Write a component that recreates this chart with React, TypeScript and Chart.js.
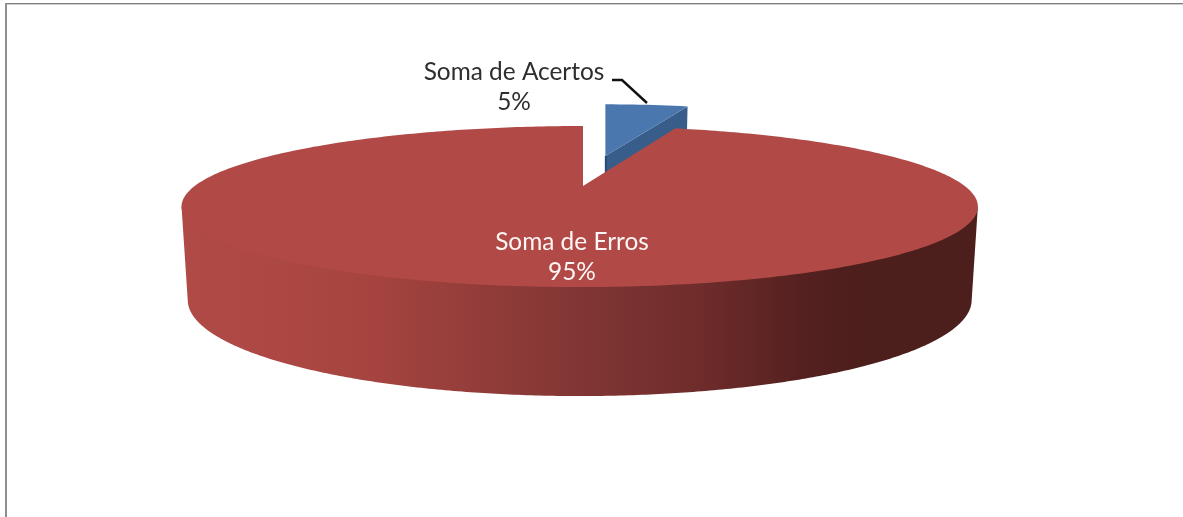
import React, { useEffect, useRef } from "react";
import { Chart, registerables } from "chart.js";

Chart.register(...registerables);

const categories = ["Soma de Acertos", "Soma de Erros"];
const seriesValues = [5, 95];
const percentLabels = ["5%", "95%"];
const sliceColors = ["#4a78ae", "#b14a47"];
const explodeOffsets = [95, 0];

const WALL_STOPS: [number, string][] = [
  [183, "#b04a46"],
  [300, "#ab4743"],
  [380, "#a4433f"],
  [460, "#963e3b"],
  [580, "#813634"],
  [700, "#6e2c2b"],
  [800, "#552120"],
  [860, "#4c1e1c"],
  [978, "#4c1e1c"],
];

type Plane = { cx: number; cy: number; a: number; b: number; k: number; warp: number };
const TOP: Plane = { cx: 579.7, cy: 186, a: 385, b: 75.3, k: 0.255, warp: 3.3 };
const BOTTOM: Plane = { cx: 579.7, cy: 275.5, a: 379, b: 89.8, k: 0.255, warp: 0 };
const BLUE_TOP: Plane = { ...TOP, cx: 581, warp: 0 };
const BLUE_BOTTOM: Plane = { ...BOTTOM, cx: 581 };
const BLUE_SCALE = 0.83;
const RED_APEX: [number, number] = [583, 186];

const project = (p: Plane, u: number, v: number): [number, number] => {
  const w = 1 + p.k * v;
  const shift = u <= 0 && v > 0 ? p.warp * v * v : 0;
  return [p.cx + (p.a * u) / w + shift, p.cy - (p.b * v) / w];
};

const trace = (ctx: CanvasRenderingContext2D, pts: [number, number][]) => {
  ctx.beginPath();
  pts.forEach(([x, y], i) => (i ? ctx.lineTo(x, y) : ctx.moveTo(x, y)));
  ctx.closePath();
};

const ringFront = (plane: Plane) => {
  const all: [number, number][] = [];
  for (let i = 0; i < 720; i++) {
    const a = (i * Math.PI) / 360;
    all.push(project(plane, Math.cos(a), Math.sin(a)));
  }
  let lo = 0;
  let hi = 0;
  all.forEach((p, i) => {
    if (p[0] < all[lo][0]) lo = i;
    if (p[0] > all[hi][0]) hi = i;
  });
  const end = hi < lo ? hi + 720 : hi;
  const pts: [number, number][] = [];
  for (let i = lo; i <= end; i++) pts.push(all[i % 720]);
  return pts;
};

const pie3d = {
  id: "pie3d",
  beforeDatasetsDraw(chart: any) {
    const ctx: CanvasRenderingContext2D = chart.ctx;
    const arcs = chart.getDatasetMeta(0).data;
    ctx.save();

    // frame
    ctx.fillStyle = "#7f7f7f";
    ctx.fillRect(5, 3, 1178, 1);
    ctx.fillStyle = "#cfcfcf";
    ctx.fillRect(7, 4, 1176, 1);
    ctx.fillStyle = "#8f8f8f";
    ctx.fillRect(5, 3, 2, 514);

    // exploded slice (index 0)
    const blue = arcs[0];
    const mid = (blue.startAngle + blue.endAngle) / 2;
    const d = blue.options.offset / blue.outerRadius;
    const ou = Math.cos(mid) * d;
    const ov = -Math.sin(mid) * d;
    const rimOf = (plane: Plane) => {
      const apex = project(plane, ou, ov);
      const base = project(plane, 0, 0);
      const pts: [number, number][] = [];
      for (let i = 0; i <= 12; i++) {
        const a = blue.startAngle + ((blue.endAngle - blue.startAngle) * i) / 12;
        const q = project(plane, BLUE_SCALE * Math.cos(a), -BLUE_SCALE * Math.sin(a));
        pts.push([q[0] - base[0] + apex[0], q[1] - base[1] + apex[1]]);
      }
      return { apex, pts };
    };
    const bt = rimOf(BLUE_TOP);
    const bb = rimOf(BLUE_BOTTOM);
    const lastT = bt.pts[bt.pts.length - 1];
    const lastB = bb.pts[bb.pts.length - 1];
    ctx.fillStyle = "#385d8a";
    trace(ctx, [bt.apex, lastT, lastB, bb.apex]);
    ctx.fill();
    ctx.fillStyle = "#2b4a70";
    ctx.fillRect(bt.apex[0] - 0.5, bt.apex[1], 2, bb.apex[1] - bt.apex[1]);
    ctx.fillStyle = blue.options.backgroundColor;
    trace(ctx, [bt.apex, ...bt.pts]);
    ctx.fill();

    // main slice wall (index 1)
    const red = arcs[1];
    const tf = ringFront(TOP);
    const bf = ringFront(BOTTOM);
    const grad = ctx.createLinearGradient(183, 0, 978, 0);
    WALL_STOPS.forEach(([x, c]) => grad.addColorStop((x - 183) / 795, c));
    ctx.fillStyle = grad;
    trace(ctx, [RED_APEX, tf[0], ...bf, tf[tf.length - 1]]);
    ctx.fill();

    // main slice top face
    const face: [number, number][] = [RED_APEX];
    const n = 360;
    for (let i = 0; i <= n; i++) {
      const a = red.startAngle + ((red.endAngle - red.startAngle) * i) / n;
      face.push(project(TOP, Math.cos(a), -Math.sin(a)));
    }
    ctx.fillStyle = red.options.backgroundColor;
    trace(ctx, face);
    ctx.fill();

    // leader line and labels, softened like the reference
    ctx.filter = "blur(0.5px)";
    ctx.strokeStyle = "#111111";
    ctx.lineWidth = 2.4;
    ctx.beginPath();
    ctx.moveTo(612, 80);
    ctx.lineTo(622, 80);
    ctx.lineTo(647, 103);
    ctx.stroke();

    ctx.textAlign = "center";
    ctx.textBaseline = "middle";
    ctx.font = '24.4px Lato, "Open Sans", sans-serif';
    ctx.fillStyle = "#2e2e2e";
    ctx.fillText(categories[0], 514, 72);
    ctx.fillText(percentLabels[0], 514, 102);
    ctx.fillStyle = "#fdf6f5";
    ctx.fillText(categories[1], 572, 242);
    ctx.fillText(percentLabels[1], 572, 272);

    ctx.restore();
    return false;
  },
};

export default function App() {
  const ref = useRef<HTMLCanvasElement | null>(null);
  useEffect(() => {
    const chart = new Chart(ref.current as HTMLCanvasElement, {
      type: "pie",
      data: {
        labels: categories,
        datasets: [
          {
            data: seriesValues,
            backgroundColor: sliceColors,
            offset: explodeOffsets,
            borderWidth: 0,
          },
        ],
      },
      options: {
        responsive: false,
        animation: false,
        rotation: 0,
        plugins: { legend: { display: false }, tooltip: { enabled: false } },
      },
      plugins: [pie3d],
    } as any);
    return () => chart.destroy();
  }, []);
  return (
    <div style={{ position: "fixed", left: 0, top: 0, width: 1183, height: 517, background: "#ffffff" }}>
      <canvas ref={ref} width={1183} height={517} style={{ display: "block" }} />
    </div>
  );
}
